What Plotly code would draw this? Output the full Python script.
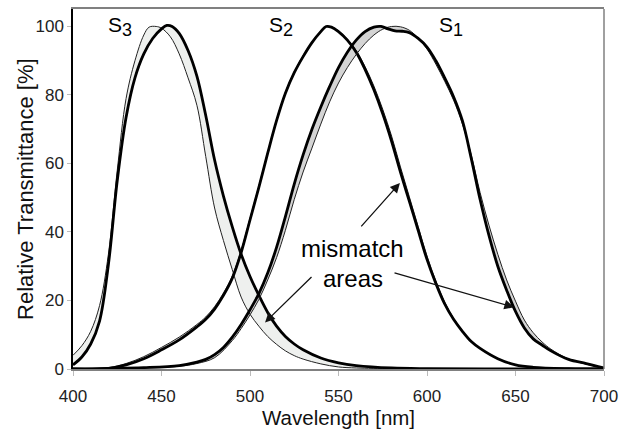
import plotly.graph_objects as go

# ---------------- data ----------------
wl_s3_thick = [400,405,410,415,420,425,430,435,440,445,450,453,456,460,465,470,475,480,485,490,495,500,505,510,515,520,525,530,540,550,560,580,600,650,700]
s3_thick    = [1.2,3.5,7.3,14,30.5,55,73.5,85,92,96.5,99.3,100.3,100,98,93,85.5,74,61,50.5,41.5,33.5,27,21.5,16.5,12.5,9.5,7.3,5.6,3.2,1.8,1.0,0.3,0.1,0,0]

wl_s3_thin  = [400,405,410,415,420,425,430,435,440,443,447,450,455,460,465,470,475,480,485,490,495,500,505,510,515,520,525,530,540,550,560,580,600,650,700]
s3_thin     = [4,6.8,11,18.5,33.5,58,79,90,97.5,99.8,100,99.5,97,92,85,77,62,47,37.5,29,21,16,12.5,9.5,7.2,5.3,3.9,2.9,1.5,0.6,0.3,0.1,0,0,0]

wl_s2       = [400,420,430,440,450,460,470,475,480,485,490,495,500,505,510,515,520,525,530,535,540,543,546,550,555,560,565,570,575,580,585,590,595,600,605,610,615,620,625,630,640,650,660,680,700]
s2_thick    = [0,0.2,1.2,3,5.6,8.5,12.3,14.5,17.5,21.5,26.5,34,43.5,53,63,72.5,80.5,86.5,91.2,95.3,98.5,100,99.8,98.5,96,92.5,87.5,81.5,74.5,66.5,57.5,49,40.5,32,25,19,14.5,11,8,6,3,1.2,0.5,0.1,0]
s2_thin     = [0,0.4,1.6,3.6,6.3,9.3,13,15.2,18.2,22.2,27.2,34.6,44,53.4,63.3,72.8,80.8,86.8,91.5,95.5,98.7,100,99.9,98.7,96.3,93,88.3,82.6,75.8,68,59,50.3,41.6,33,25.7,19.5,14.8,11.2,8.1,6,3,1.2,0.5,0.1,0]

wl_s1_thick = [400,440,460,470,475,480,485,490,495,500,505,510,515,520,525,530,535,540,545,550,555,560,565,570,574,578,582,586,590,595,600,605,610,615,620,625,630,635,640,645,650,655,660,665,670,680,690,700]
s1_thick    = [0,0.4,1,2,2.8,4.2,6.3,9.3,13,17.3,22,28,35.5,44.5,54,62.5,70,76.5,82.5,88,92.5,96,98.5,99.8,100,99.3,98.7,98.6,98.2,96.5,94,90,85,79.5,72.5,61.5,49.5,39,30,23,16.8,12,8.8,7,5.3,2.8,1.6,0.3]

wl_s1_thin  = [400,440,460,470,480,490,495,500,505,510,515,520,525,530,535,540,545,550,555,560,565,570,575,580,585,590,595,600,605,610,615,620,625,630,635,640,645,650,655,660,665,670,680,690,700]
s1_thin     = [0,0.3,0.8,1.6,3.3,8.3,11.8,15.8,20.3,26,32.5,40.5,49.5,57.5,64.5,71.5,78,83.5,88,91.8,95,97.5,99.2,100,99.9,98.9,96.6,93.4,89,84,78.5,71.5,62.5,51.5,42,33.5,26,19.8,14.3,10.6,7.9,5.8,2.9,1.4,0.3]

x_ticks = [400, 450, 500, 550, 600, 650, 700]
y_ticks = [0, 20, 40, 60, 80, 100]

FONT = "Liberation Sans, Arial, sans-serif"
SPL = dict(shape="spline", smoothing=1.0)

pairs = [
    (wl_s3_thick, s3_thick, wl_s3_thin, s3_thin, "#eef0ee"),
    (wl_s2, s2_thick, wl_s2, s2_thin, "#e2e2e2"),
    (wl_s1_thick, s1_thick, wl_s1_thin, s1_thin, "#d4d4d4"),
]

fig = go.Figure()
# mismatch fills (drawn first)
for wk, yk, wt, yt, fc in pairs:
    fig.add_trace(go.Scatter(x=wk, y=yk, mode="lines", line=dict(width=0, **SPL),
                             showlegend=False, hoverinfo="skip"))
    fig.add_trace(go.Scatter(x=wt, y=yt, mode="lines", line=dict(width=0, **SPL),
                             fill="tonexty", fillcolor=fc, showlegend=False, hoverinfo="skip"))
# lines
for wk, yk, wt, yt, fc in pairs:
    fig.add_trace(go.Scatter(x=wt, y=yt, mode="lines",
                             line=dict(color="#222222", width=1, **SPL), showlegend=False))
    fig.add_trace(go.Scatter(x=wk, y=yk, mode="lines",
                             line=dict(color="black", width=2.8, **SPL), showlegend=False))

labels = [("S<sub><span style='font-size:18px'>3</span></sub>", 426.6, 99.9),
          ("S<sub><span style='font-size:18px'>2</span></sub>", 517.5, 100.1),
          ("S<sub><span style='font-size:18px'>1</span></sub>", 613.6, 100.1)]
for t, x, y in labels:
    fig.add_annotation(x=x, y=y, text=t, showarrow=False, font=dict(family=FONT, size=21, color="black"))

fig.add_annotation(x=557.9, y=35.1, text="mismatch", showarrow=False,
                   font=dict(family=FONT, size=24, color="black"))
fig.add_annotation(x=558.2, y=26.4, text="areas", showarrow=False,
                   font=dict(family=FONT, size=24, color="black"))

arrows = [((562.1, 41.2), (584.7, 54.3)),
          ((535.6, 27.3), (508.5, 13.6)),
          ((580.8, 28.2), (649.2, 18.0))]
for (tx, ty), (hx, hy) in arrows:
    fig.add_annotation(x=hx, y=hy, ax=tx, ay=ty, xref="x", yref="y", axref="x", ayref="y",
                       text="", showarrow=True, arrowhead=2, arrowsize=1.5, arrowwidth=1.3,
                       arrowcolor="#111111", standoff=0)

# axis titles
fig.add_annotation(xref="paper", yref="paper", x=0.5, y=-0.135, yanchor="middle",
                   text="Wavelength [nm]", showarrow=False,
                   font=dict(family=FONT, size=20.5, color="#111111"))
fig.add_annotation(xref="paper", yref="paper", x=-0.0904, y=0.5, xanchor="center", yanchor="middle",
                   textangle=-90, text="Relative Transmittance [%]", showarrow=False,
                   font=dict(family=FONT, size=22, color="#111111"))

fig.add_shape(type="line", xref="paper", yref="paper", x0=1, x1=1, y0=0, y1=1,
              line=dict(color="#808080", width=1.5))

fig.update_layout(
    width=627, height=432,
    margin=dict(l=73, r=23, t=7, b=63),
    paper_bgcolor="white", plot_bgcolor="white",
    font=dict(family=FONT, color="#222222"),
    xaxis=dict(range=[400, 700], tickvals=x_ticks, showgrid=False, zeroline=False,
               showline=True, linecolor="#808080", linewidth=1.5, mirror=True,
               ticks="outside", ticklen=5, tickcolor="#bbbbbb", ticklabelstandoff=6,
               tickfont=dict(family=FONT, size=17, color="#222222")),
    yaxis=dict(range=[0, 105.1], tickvals=y_ticks, showgrid=False, zeroline=False,
               showline=True, linecolor="black", linewidth=1.5,
               ticks="outside", ticklen=4, tickcolor="#bbbbbb",
               tickfont=dict(family=FONT, size=17, color="#222222")),
)

fig.write_html("out.html")
